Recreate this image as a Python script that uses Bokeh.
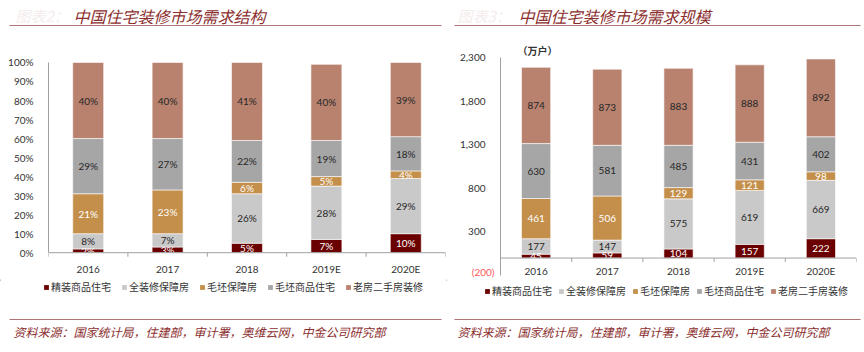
from bokeh.plotting import figure
from bokeh.models import (ColumnDataSource, Range1d, LinearAxis, FixedTicker,
                          NumeralTickFormatter, PrintfTickFormatter, Span,
                          Legend, LegendItem, Title)
from bokeh.layouts import row, column
from bokeh.embed import file_html
from bokeh.resources import INLINE
from bokeh.core.properties import value

# ---------------- data ----------------
years = ["2016", "2017", "2018", "2019E", "2020E"]
series_names = ["精装商品住宅", "全装修保障房", "毛坯保障房", "毛坯商品住宅", "老房二手房装修"]

# structure (%)
share_jingzhuang = [2, 3, 5, 7, 10]
share_quanzhuangxiu = [8, 7, 26, 28, 29]
share_maopi_baozhang = [21, 23, 6, 5, 4]
share_maopi_shangpin = [29, 27, 22, 19, 18]
share_laofang = [40, 40, 41, 40, 39]

# scale (10k households)
vol_jingzhuang = [45, 59, 104, 157, 222]
vol_quanzhuangxiu = [177, 147, 575, 619, 669]
vol_maopi_baozhang = [461, 506, 129, 121, 98]
vol_maopi_shangpin = [630, 581, 485, 431, 402]
vol_laofang = [874, 873, 883, 888, 892]

pct_ticks = [0, 10, 20, 30, 40, 50, 60, 70, 80, 90, 100]
vol_ticks = [-200, 300, 800, 1300, 1800, 2300]

title_left = "中国住宅装修市场需求结构"
title_right = "中国住宅装修市场需求规模"
faded_left = "图表2："
faded_right = "图表3："
source_text = "资料来源：国家统计局，住建部，审计署，奥维云网，中金公司研究部"
unit_text = "（万户）"

# ---------------- style ----------------
colors = ["#6a0000", "#c9c9c9", "#c48f4b", "#a6a6a6", "#b8826f"]
label_colors = ["#ffffff", "#262626", "#ffffff", "#262626", "#262626"]
dark_red = "#8b2e2e"
rule_color = "#b07474"
axis_color = "#a0a0a0"
tick_text = "#333333"
num_font = "Lato"
cjk_font = "Noto Sans CJK SC"

W_L, W_R = 446, 418
H_HEAD, H_CHART = 40, 239
H_FOOT = 352 - H_HEAD - H_CHART
TOP_B, BOT_B = 17, 2          # identical borders for both chart panels


def blank(W, H):
    p = figure(width=W, height=H, x_range=Range1d(0, W), y_range=Range1d(H, 0),
               output_backend="svg", toolbar_location=None, title=None,
               x_axis_type=None, y_axis_type=None, min_border=0)
    p.min_border_left = p.min_border_right = 0
    p.min_border_top = p.min_border_bottom = 0
    p.outline_line_color = None
    return p


def make_header(W, faded, faded_x, title, title_x, rx0, rx1):
    p = blank(W, H_HEAD)
    p.text(x=[faded_x], y=[15], text=[faded], text_color="#f5ecec",
           text_font=value(cjk_font), text_font_size="15px",
           text_font_style="italic", text_baseline="middle", text_align="left")
    p.text(x=[title_x], y=[15], text=[title], text_color=dark_red,
           text_font=value(cjk_font), text_font_size="16px",
           text_font_style="italic", text_baseline="middle", text_align="left")
    p.segment(x0=[rx0], y0=[25], x1=[rx1], y1=[25], line_color=rule_color,
              line_width=1.2)
    return p


def make_footer(W, legend_xy, spacing, rx0, rx1, src_x):
    p = blank(W, H_FOOT)
    # legend swatch proxies, placed outside the visible range
    rends = [p.vbar(x=[-10 * W], top=[1], bottom=[0], width=1, fill_color=c,
                    line_color=None) for c in colors]
    legend = Legend(items=[LegendItem(label=n, renderers=[r])
                           for n, r in zip(series_names, rends)],
                    orientation="horizontal", location=legend_xy,
                    glyph_width=6, glyph_height=6, label_standoff=2,
                    spacing=spacing, padding=0, margin=0, label_height=12,
                    label_text_font=cjk_font, label_text_font_size="10px",
                    label_text_color=tick_text, border_line_color=None,
                    background_fill_alpha=0)
    p.add_layout(legend)
    p.segment(x0=[rx0], y0=[40], x1=[rx1], y1=[40], line_color=rule_color,
              line_width=1.2)
    p.text(x=[src_x], y=[52], text=[source_text], text_color=dark_red,
           text_font=value(cjk_font), text_font_size="12px",
           text_font_style="italic", text_baseline="middle", text_align="left")
    return p


def make_chart(W, L, R, shares, y_range, ticks, y_bounds, bar_width, fmt,
               overrides, label_fmt, tick_len, x_label_standoff):
    x_idx = list(range(len(years)))
    p = figure(width=W, height=H_CHART, x_range=Range1d(-0.5, len(years) - 0.5),
               y_range=y_range, output_backend="svg", toolbar_location=None,
               title=None, x_axis_type=None, y_axis_type=None, min_border=0)
    p.min_border_left = L
    p.min_border_right = W - R
    p.min_border_top = TOP_B
    p.min_border_bottom = BOT_B
    p.outline_line_color = None

    data = {"x": x_idx}
    keys = []
    for i, s in enumerate(shares):
        data[f"s{i}"] = s
        keys.append(f"s{i}")
    src = ColumnDataSource(data)
    p.vbar_stack(keys, x="x", width=bar_width, color=colors,
                 line_color="white", line_width=0.6, source=src)

    # value labels at segment centres
    bottoms = [0] * len(years)
    for i, s in enumerate(shares):
        cy = [b + v / 2 for b, v in zip(bottoms, s)]
        bottoms = [b + v for b, v in zip(bottoms, s)]
        p.text(x=x_idx, y=cy, text=[label_fmt(v) for v in s],
               text_color=label_colors[i], text_align="center",
               text_baseline="middle", text_font=value(num_font),
               text_font_size="10px")

    # baseline at zero and category-boundary tick marks
    p.add_layout(Span(location=0, dimension="width", line_color=axis_color,
                      line_width=1))
    bx = [i - 0.5 for i in range(len(years) + 1)]
    p.segment(x0=bx, y0=[0] * len(bx), x1=bx, y1=[-tick_len] * len(bx),
              line_color=axis_color, line_width=1)

    # y axis
    yax = LinearAxis(ticker=FixedTicker(ticks=ticks, minor_ticks=[]),
                     formatter=fmt, bounds=y_bounds)
    yax.major_label_overrides = overrides
    yax.axis_line_color = axis_color
    yax.major_tick_line_color = None
    yax.minor_tick_line_color = None
    yax.major_label_text_font = num_font
    yax.major_label_text_font_size = "10px"
    yax.major_label_text_color = tick_text
    yax.major_label_standoff = 9
    p.add_layout(yax, "left")

    # x axis (category labels)
    xax = LinearAxis(ticker=FixedTicker(ticks=x_idx, minor_ticks=[]))
    xax.major_label_overrides = {i: y for i, y in enumerate(years)}
    xax.axis_line_color = None
    xax.major_tick_line_color = None
    xax.minor_tick_line_color = None
    xax.major_tick_out = 0
    xax.major_tick_in = 0
    xax.major_label_text_font = num_font
    xax.major_label_text_font_size = "10px"
    xax.major_label_text_color = tick_text
    xax.major_label_standoff = x_label_standoff
    p.add_layout(xax, "below")
    return p


# ---------------- left chart (0..100% mapped to y 254..62) ----------------
px_per_pct = (254 - 62) / 100.0
yl = Range1d(-(277 - 254) / px_per_pct, 100 + (62 - 57) / px_per_pct)
chart_l = make_chart(
    W_L, 48, 445,
    [share_jingzhuang, share_quanzhuangxiu, share_maopi_baozhang,
     share_maopi_shangpin, share_laofang],
    yl, pct_ticks, (0, 100), 0.39, PrintfTickFormatter(format="%d%%"), {},
    lambda v: f"{v}%", 4 / px_per_pct, -13)

# ---------------- right chart (frame 500..856 x, 57..277 y) ----------------
off = W_L
chart_r = make_chart(
    W_R, 500 - off, 856 - off,
    [vol_jingzhuang, vol_quanzhuangxiu, vol_maopi_baozhang,
     vol_maopi_shangpin, vol_laofang],
    Range1d(vol_ticks[0], vol_ticks[-1]), vol_ticks, "auto", 0.41,
    NumeralTickFormatter(format="0,0"), {-200: ""}, lambda v: f"{v}",
    4 * 2500 / 220.0, -11)
# red "(200)" label for the negative tick
neg_ax = LinearAxis(ticker=FixedTicker(ticks=[vol_ticks[0]], minor_ticks=[]))
neg_ax.major_label_overrides = {vol_ticks[0]: "(200)"}
neg_ax.axis_line_color = None
neg_ax.major_tick_line_color = None
neg_ax.minor_tick_line_color = None
neg_ax.major_label_text_font = num_font
neg_ax.major_label_text_font_size = "10px"
neg_ax.major_label_text_color = "#ff5a5a"
neg_ax.major_label_standoff = -43
chart_r.add_layout(neg_ax, "left")
# unit label as the panel title
chart_r.title = Title(text=unit_text, align="left", offset=17, standoff=0,
                      text_font=cjk_font, text_font_size="10px",
                      text_font_style="bold", text_color="#333333")

head_l = make_header(W_L, faded_left, 15, title_left, 73, 9, 441)
head_r = make_header(W_R, faded_right, 457 - off, title_right, 518 - off,
                     454 - off, 860 - off)
foot_l = make_footer(W_L, (43, H_FOOT - 15), 10, 9, 441, 13)
foot_r = make_footer(W_R, (484 - off, H_FOOT - 19), 6, 454 - off, 860 - off,
                     457 - off)

layout = column(row(head_l, head_r, spacing=0),
                row(chart_l, chart_r, spacing=0),
                row(foot_l, foot_r, spacing=0), spacing=0)
open("out.html", "w").write(file_html(layout, INLINE))
